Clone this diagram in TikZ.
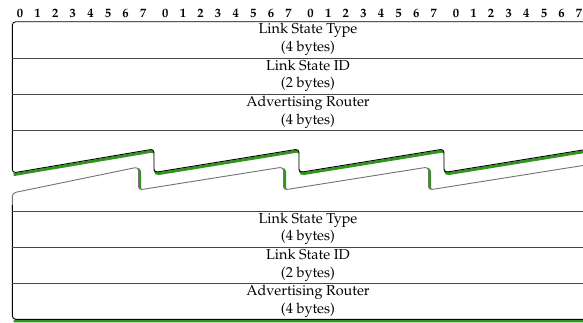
\documentclass[tikz,border=0pt]{standalone}
\usepackage[T1]{fontenc}
\usepackage{mathpazo}
\definecolor{shadowgreen}{RGB}{48,150,28}
\tikzset{
  bitnum/.style={font=\fontsize{12.6}{14}\selectfont\bfseries, inner sep=0pt, anchor=base},
  fieldtext/.style={font=\fontsize{14.4}{17.8}\selectfont, align=center, inner sep=0pt},
  divider/.style={draw=black!72, line width=0.8pt},
  outline/.style={draw=black, line width=0.9pt, rounded corners=3.5pt},
  loweroutline/.style={draw=black!55, line width=0.9pt, rounded corners=3.5pt},
  greenshadow/.style={draw=shadowgreen, line width=2.8pt, rounded corners=3.5pt},
}
\begin{document}
\begin{tikzpicture}[x=1pt,y=-1pt]
\useasboundingbox (0,0) rectangle (583,322);
\clip (0,0) rectangle (583,322);
\def\L{12.3}
\def\R{610}
% bit header
\foreach \b in {0,1,2,3}{
  \foreach \i in {0,...,7}{
    \node[bitnum] (bit-\b-\i) at ({20+145.3*\b+17.6*\i},17.2) {\i};
  }
}
% shadows
\begin{scope}[shift={(1.3,1.7)}]
  \draw[greenshadow] (\L,173) -- (154,149) -- (154,172.5) -- (299,149) -- (299,172.5)
     -- (444,149) -- (444,172.5) -- (589,149) -- (589,172.5) -- (\R,169.2);
  \draw[greenshadow] (\L,193) -- (138.5,167) -- (138.5,190) -- (283.5,167) -- (283.5,190)
     -- (428.5,167) -- (428.5,190) -- (\R,161.2) -- (\R,319.3) -- (\L,319.3);
\end{scope}
% white fills
\fill[white, rounded corners=3.5pt] (\R,21.7) -- (\L,21.7) -- (\L,173) -- (154,149) -- (154,172.5) -- (299,149) -- (299,172.5)
     -- (444,149) -- (444,172.5) -- (589,149) -- (589,172.5) -- (\R,169.2) -- cycle;
\fill[white, rounded corners=3.5pt] (\L,211) -- (\L,193) -- (138.5,167) -- (138.5,190) -- (283.5,167) -- (283.5,190)
     -- (428.5,167) -- (428.5,190) -- (\R,161.2) -- (\R,319.3) -- (\L,319.3) -- cycle;
% outlines
\draw[outline] (\R,21.7) -- (\L,21.7) -- (\L,173) -- (154,149) -- (154,172.5) -- (299,149) -- (299,172.5)
     -- (444,149) -- (444,172.5) -- (589,149) -- (589,172.5) -- (\R,169.2);
\draw[loweroutline] (\L,211) -- (\L,193) -- (138.5,167) -- (138.5,190) -- (283.5,167) -- (283.5,190)
     -- (428.5,167) -- (428.5,190) -- (\R,161.2);
\draw[outline] (\L,205) -- (\L,319.3) -- (\R,319.3);
% dividers
\foreach \y in {57.9,94.1,130.3,211,247.2,283.4}{
  \draw[divider] (\L,\y) -- (\R,\y);
}
% field texts
\node[fieldtext] (f1) at (308,39.6) {Link State Type\\(4 bytes)};
\node[fieldtext] (f2) at (308,75.8) {Link State ID\\(2 bytes)};
\node[fieldtext] (f3) at (308,112) {Advertising Router\\(4 bytes)};
\node[fieldtext] (f4) at (308,228.9) {Link State Type\\(4 bytes)};
\node[fieldtext] (f5) at (308,265.1) {Link State ID\\(2 bytes)};
\node[fieldtext] (f6) at (308,301.2) {Advertising Router\\(4 bytes)};
\end{tikzpicture}
\end{document}
